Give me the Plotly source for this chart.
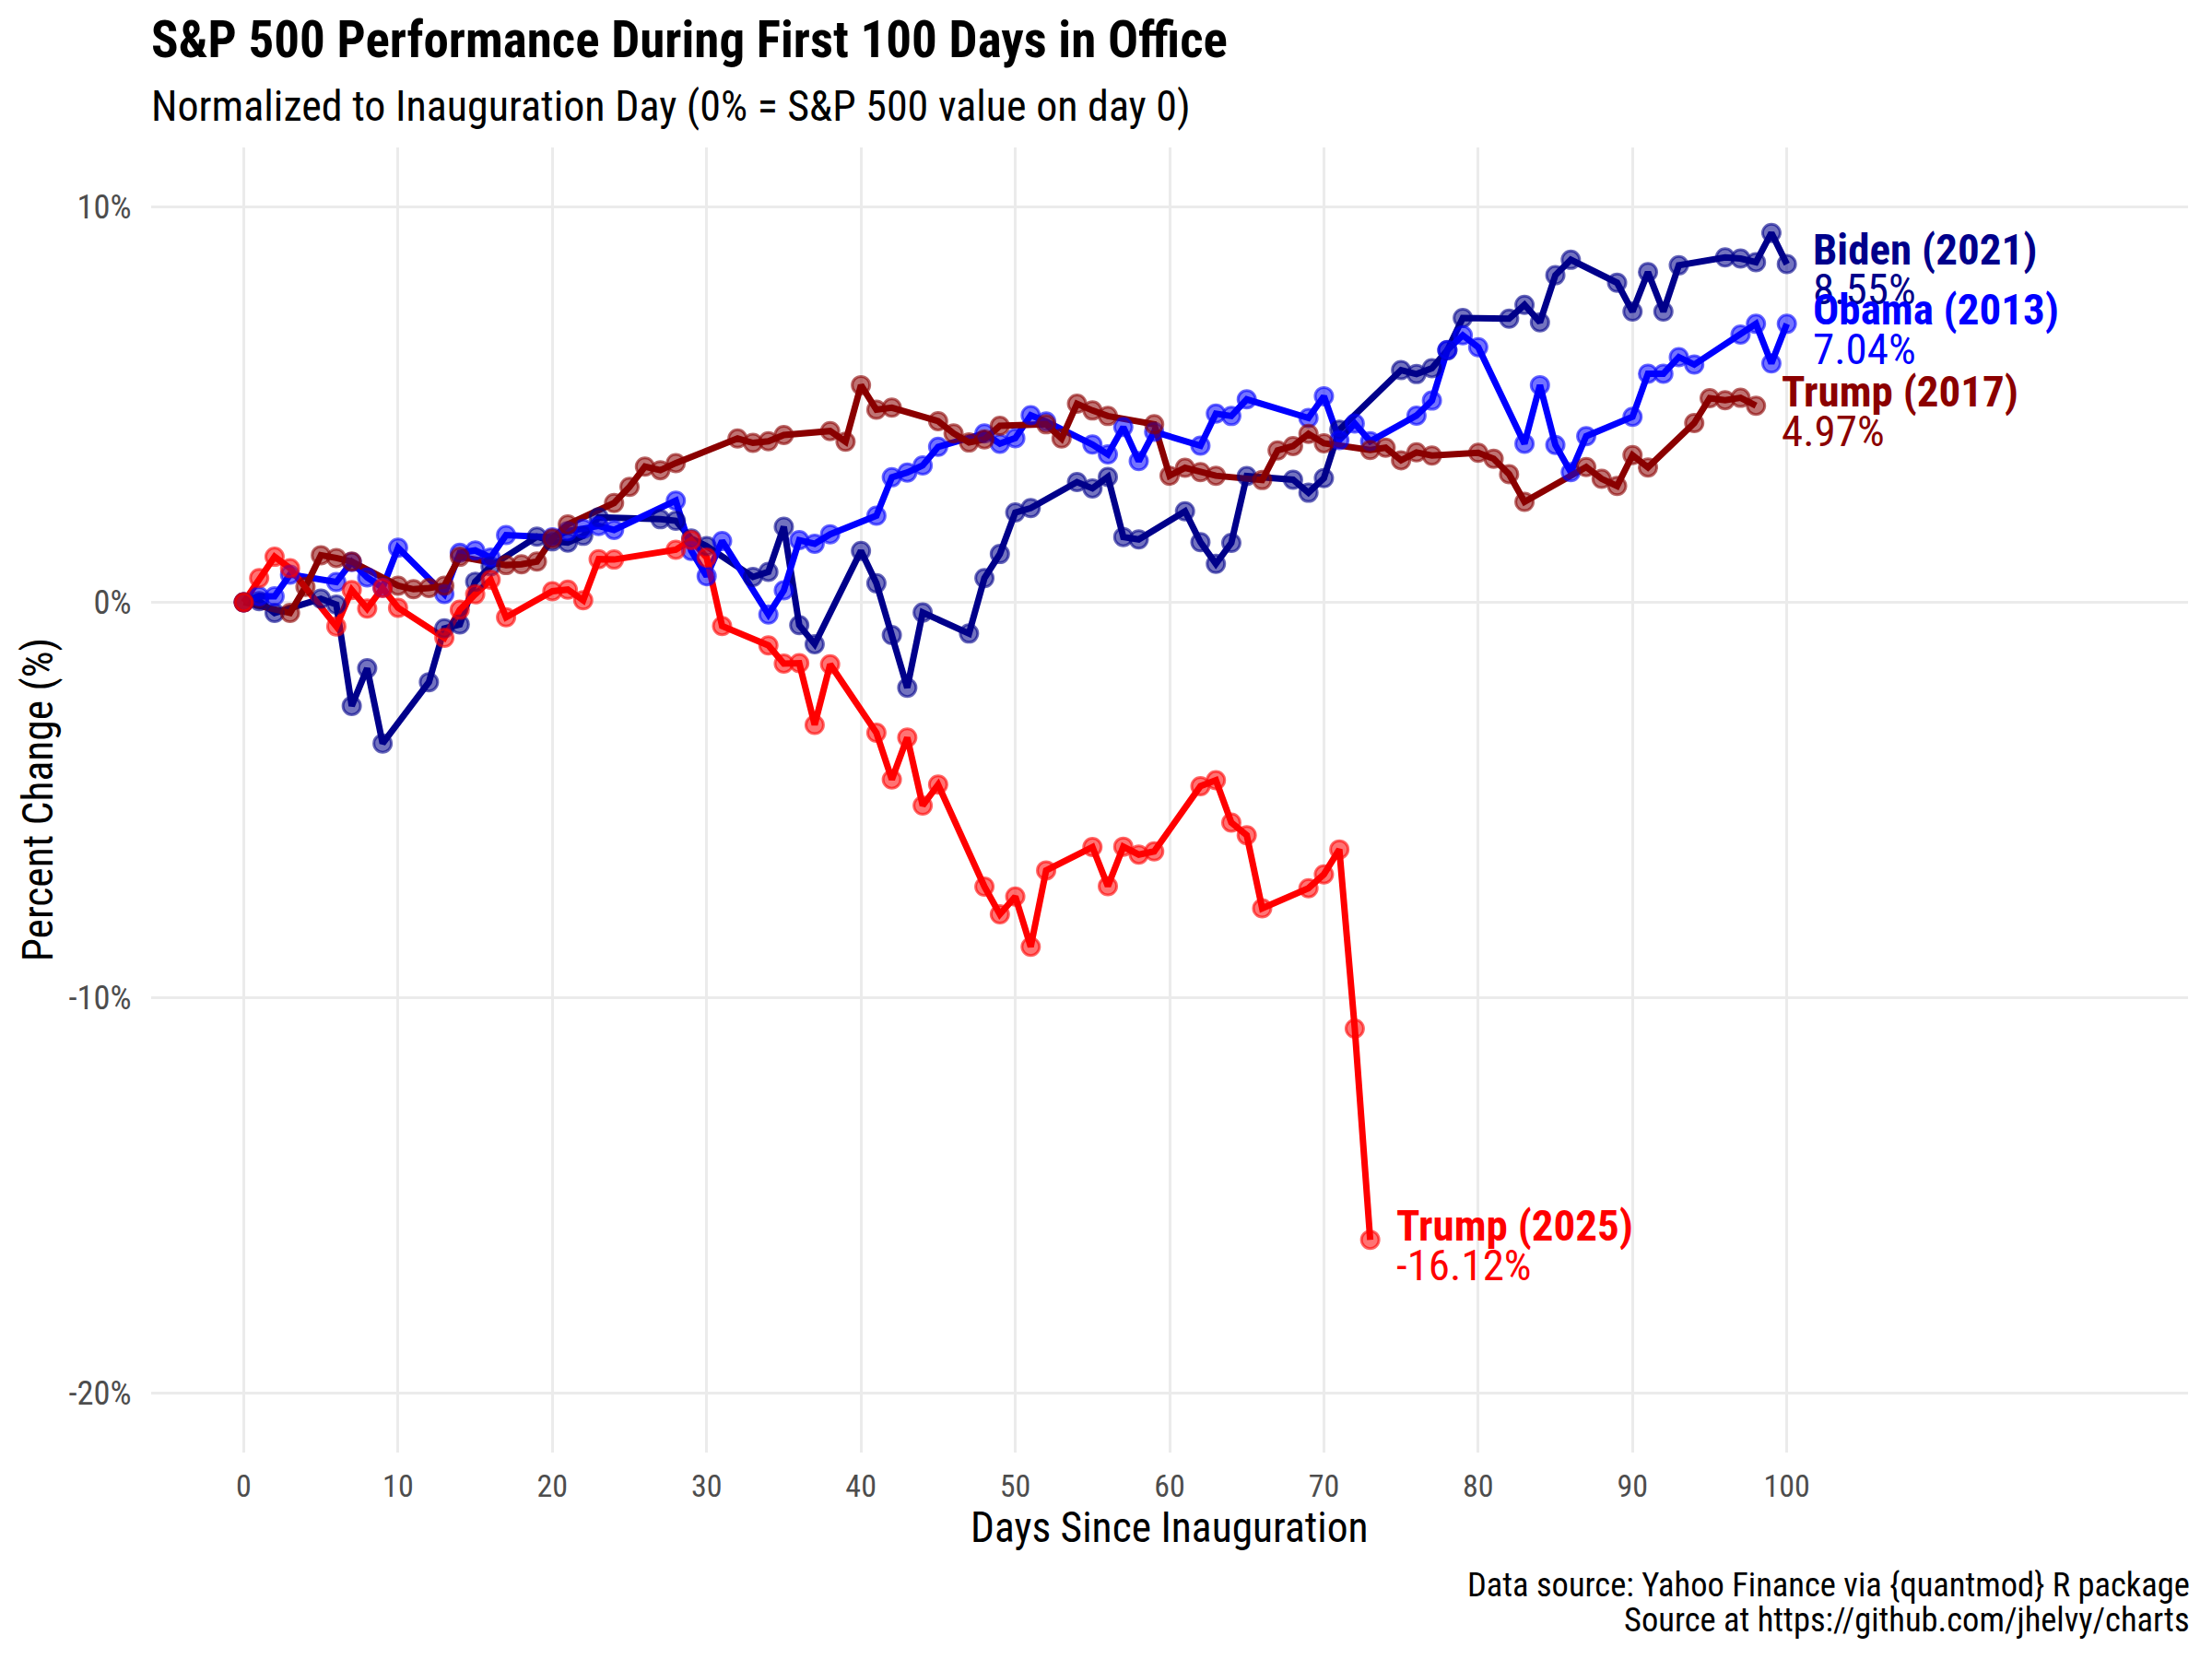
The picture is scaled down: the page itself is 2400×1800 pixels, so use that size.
import plotly.graph_objects as go

# ---------------- data ----------------
biden_days = [0, 1, 2, 5, 6, 7, 8, 9, 12, 13, 14, 15, 16, 19, 20, 21, 22, 23, 27, 28, 29, 30,
              33, 34, 35, 36, 37, 40, 41, 42, 43, 44, 47, 48, 49, 50, 51, 54, 55, 56, 57, 58,
              61, 62, 63, 64, 65, 68, 69, 70, 71, 75, 76, 77, 78, 79, 82, 83, 84, 85, 86,
              89, 90, 91, 92, 93, 96, 97, 98, 99, 100]
biden_pct = [0.00, 0.03, -0.27, 0.09, -0.06, -2.62, -1.67, -3.57, -2.02, -0.66, -0.56, 0.52, 0.91,
             1.66, 1.54, 1.51, 1.68, 2.15, 2.10, 2.06, 1.61, 1.42, 0.64, 0.77, 1.91, -0.58, -1.06,
             1.30, 0.48, -0.83, -2.16, -0.26, -0.79, 0.61, 1.22, 2.27, 2.38, 3.04, 2.88, 3.17,
             1.65, 1.59, 2.30, 1.52, 0.97, 1.50, 3.19, 3.10, 2.77, 3.14, 4.36, 5.87, 5.77, 5.92,
             6.37, 7.19, 7.17, 7.52, 7.08, 8.27, 8.66, 8.08, 7.35, 8.35, 7.35, 8.52, 8.72, 8.69,
             8.60, 9.34, 8.55]

obama_days = [0, 1, 2, 3, 6, 7, 8, 9, 10, 13, 14, 15, 16, 17, 20, 21, 22, 23, 24, 28, 29, 30, 31,
              34, 35, 36, 37, 38, 41, 42, 43, 44, 45, 48, 49, 50, 51, 52, 55, 56, 57, 58, 59,
              62, 63, 64, 65, 69, 70, 71, 72, 73, 76, 77, 78, 79, 80, 83, 84, 85, 86, 87,
              90, 91, 92, 93, 94, 97, 98, 99, 100]
obama_pct = [0.00, 0.15, 0.15, 0.70, 0.51, 1.02, 0.63, 0.37, 1.38, 0.21, 1.25, 1.31, 1.13, 1.70,
             1.64, 1.80, 1.86, 1.93, 1.83, 2.57, 1.30, 0.66, 1.55, -0.31, 0.30, 1.57, 1.48, 1.72,
             2.19, 3.16, 3.28, 3.46, 3.93, 4.27, 4.01, 4.15, 4.73, 4.57, 3.99, 3.74, 4.43, 3.57,
             4.31, 3.96, 4.77, 4.71, 5.13, 4.66, 5.21, 4.10, 4.52, 4.07, 4.72, 5.10, 6.38, 6.75,
             6.45, 4.01, 5.49, 3.98, 3.29, 4.20, 4.69, 5.78, 5.78, 6.20, 6.01, 6.77, 7.04, 6.04,
             7.04]

trump17_days = [0, 3, 4, 5, 6, 7, 10, 11, 12, 13, 14, 17, 18, 19, 20, 21, 24, 25, 26, 27, 28,
                32, 33, 34, 35, 38, 39, 40, 41, 42, 45, 46, 47, 48, 49, 52, 53, 54, 55, 56,
                59, 60, 61, 62, 63, 66, 67, 68, 69, 70, 73, 74, 75, 76, 77, 80, 81, 82, 83,
                87, 88, 89, 90, 91, 94, 95, 96, 97, 98]
trump17_pct = [0.00, -0.27, 0.39, 1.19, 1.12, 1.03, 0.42, 0.33, 0.36, 0.42, 1.15, 0.94, 0.96,
               1.03, 1.61, 1.97, 2.51, 2.92, 3.43, 3.34, 3.52, 4.14, 4.03, 4.07, 4.23, 4.33,
               4.06, 5.49, 4.87, 4.92, 4.58, 4.27, 4.04, 4.12, 4.46, 4.50, 4.14, 5.02, 4.85,
               4.71, 4.50, 3.20, 3.40, 3.29, 3.20, 3.09, 3.84, 3.95, 4.26, 4.02, 3.85, 3.91,
               3.59, 3.79, 3.71, 3.78, 3.63, 3.24, 2.54, 3.42, 3.12, 2.94, 3.72, 3.41, 4.53,
               5.16, 5.11, 5.17, 4.97]

trump25_days = [0, 1, 2, 3, 6, 7, 8, 9, 10, 13, 14, 15, 16, 17, 20, 21, 22, 23, 24, 28, 29, 30,
                31, 34, 35, 36, 37, 38, 41, 42, 43, 44, 45, 48, 49, 50, 51, 52, 55, 56, 57, 58,
                59, 62, 63, 64, 65, 66, 69, 70, 71, 72, 73]
trump25_pct = [0.00, 0.61, 1.15, 0.86, -0.61, 0.31, -0.16, 0.36, -0.14, -0.90, -0.19, 0.20, 0.57,
               -0.38, 0.28, 0.32, 0.05, 1.09, 1.08, 1.33, 1.57, 1.13, -0.60, -1.09, -1.55, -1.54,
               -3.10, -1.57, -3.30, -4.48, -3.42, -5.14, -4.61, -7.19, -7.89, -7.44, -8.71,
               -6.78, -6.19, -7.18, -6.18, -6.38, -6.30, -4.65, -4.50, -5.57, -5.89, -7.74,
               -7.23, -6.88, -6.25, -10.78, -16.12]

series_names = ["Biden (2021)", "Obama (2013)", "Trump (2017)", "Trump (2025)"]
series_colors = ["#00008B", "#0000FF", "#8B0000", "#FF0000"]
series_rgb = [(0, 0, 139), (0, 0, 255), (139, 0, 0), (255, 0, 0)]

y_tickvals = [-20, -10, 0, 10]
y_ticktext = ["-20%", "-10%", "0%", "10%"]
x_tickvals = [0, 10, 20, 30, 40, 50, 60, 70, 80, 90, 100]

# ---------------- figure ----------------
FONT = "Roboto Condensed, Liberation Sans Narrow, Arial Narrow, DejaVu Sans Condensed, sans-serif"

all_days = [biden_days, obama_days, trump17_days, trump25_days]
all_pct = [biden_pct, obama_pct, trump17_pct, trump25_pct]

fig = go.Figure()

# lines first (all series), then points on top
for d, p, c in zip(all_days, all_pct, series_colors):
    fig.add_trace(go.Scatter(x=d, y=p, mode="lines",
                             line=dict(color=c, width=7),
                             hoverinfo="skip", showlegend=False))
for d, p, rgb, n in zip(all_days, all_pct, series_rgb, series_names):
    r, g, b = rgb
    fig.add_trace(go.Scatter(x=d, y=p, mode="markers", name=n,
                             marker=dict(size=19, color=f"rgba({r},{g},{b},0.55)",
                                         line=dict(color=f"rgba({r},{g},{b},0.6)", width=3)),
                             showlegend=False))

# end labels
for d, p, c, n in zip(all_days, all_pct, series_colors, series_names):
    fig.add_annotation(x=d[-1] + 1.55, y=p[-1], xref="x", yref="y", text=f"<b>{n}</b>",
                       showarrow=False, xanchor="left", yanchor="middle", yshift=16,
                       font=dict(family=FONT, size=47, color=c))
    fig.add_annotation(x=d[-1] + 1.55, y=p[-1], xref="x", yref="y", text=f"{p[-1]:.2f}%",
                       showarrow=False, xanchor="left", yanchor="middle", yshift=-27,
                       font=dict(family=FONT, size=47, color=c))

# zero reference line
fig.add_shape(type="line", xref="paper", yref="y", x0=0, x1=1, y0=0, y1=0,
              line=dict(color="#808080", width=3, dash="18px,17px"), layer="between")

# title / subtitle / caption / axis titles
fig.add_annotation(x=0, y=1.0828, xref="paper", yref="paper", xanchor="left", yanchor="middle",
                   xshift=-2,
                   text="<b>S&P 500 Performance During First 100 Days in Office</b>",
                   showarrow=False, font=dict(family=FONT, size=55, color="#000000"))
fig.add_annotation(x=0, y=1.0321, xref="paper", yref="paper", xanchor="left", yanchor="middle",
                   xshift=-2,
                   text="Normalized to Inauguration Day (0% = S&P 500 value on day 0)",
                   showarrow=False, font=dict(family=FONT, size=46, color="#000000"))
fig.add_annotation(x=0.5, y=-0.0574, xref="paper", yref="paper", xanchor="center", yanchor="middle",
                   text="Days Since Inauguration", showarrow=False,
                   font=dict(family=FONT, size=45.5, color="#000000"))
fig.add_annotation(x=-0.0555, y=0.5, xref="paper", yref="paper", xanchor="center", yanchor="middle",
                   text="Percent Change (%)", textangle=-90, showarrow=False,
                   font=dict(family=FONT, size=45.5, color="#000000"))
fig.add_annotation(x=1.0, y=-0.1010, xref="paper", yref="paper", xanchor="right", yanchor="middle",
                   xshift=4, text="Data source: Yahoo Finance via {quantmod} R package",
                   showarrow=False, font=dict(family=FONT, size=36.5, color="#000000"))
fig.add_annotation(x=1.0, y=-0.1285, xref="paper", yref="paper", xanchor="right", yanchor="middle",
                   xshift=4, text="Source at https://github.com/jhelvy/charts",
                   showarrow=False, font=dict(family=FONT, size=36.5, color="#000000"))

fig.update_layout(
    width=2400, height=1800,
    margin=dict(l=164, r=26, t=160, b=224),
    plot_bgcolor="white", paper_bgcolor="white",
    font=dict(family=FONT),
    showlegend=False,
    xaxis=dict(range=[-6, 126], tickvals=x_tickvals, showgrid=True, gridcolor="#EBEBEB",
               gridwidth=3, zeroline=False, showline=False, ticks="", ticklabelstandoff=13,
               tickfont=dict(family=FONT, size=34, color="#4D4D4D")),
    yaxis=dict(range=[-21.5, 11.5], tickvals=y_tickvals, ticktext=y_ticktext, showgrid=True,
               gridcolor="#EBEBEB", gridwidth=3, zeroline=False, showline=False,
               ticks="outside", ticklen=13, tickcolor="rgba(0,0,0,0)",
               tickfont=dict(family=FONT, size=36.5, color="#4D4D4D")),
)

fig.write_html("out.html", config={"displayModeBar": False},
               post_script="document.body.style.margin='0px'; document.body.style.overflow='hidden';")
